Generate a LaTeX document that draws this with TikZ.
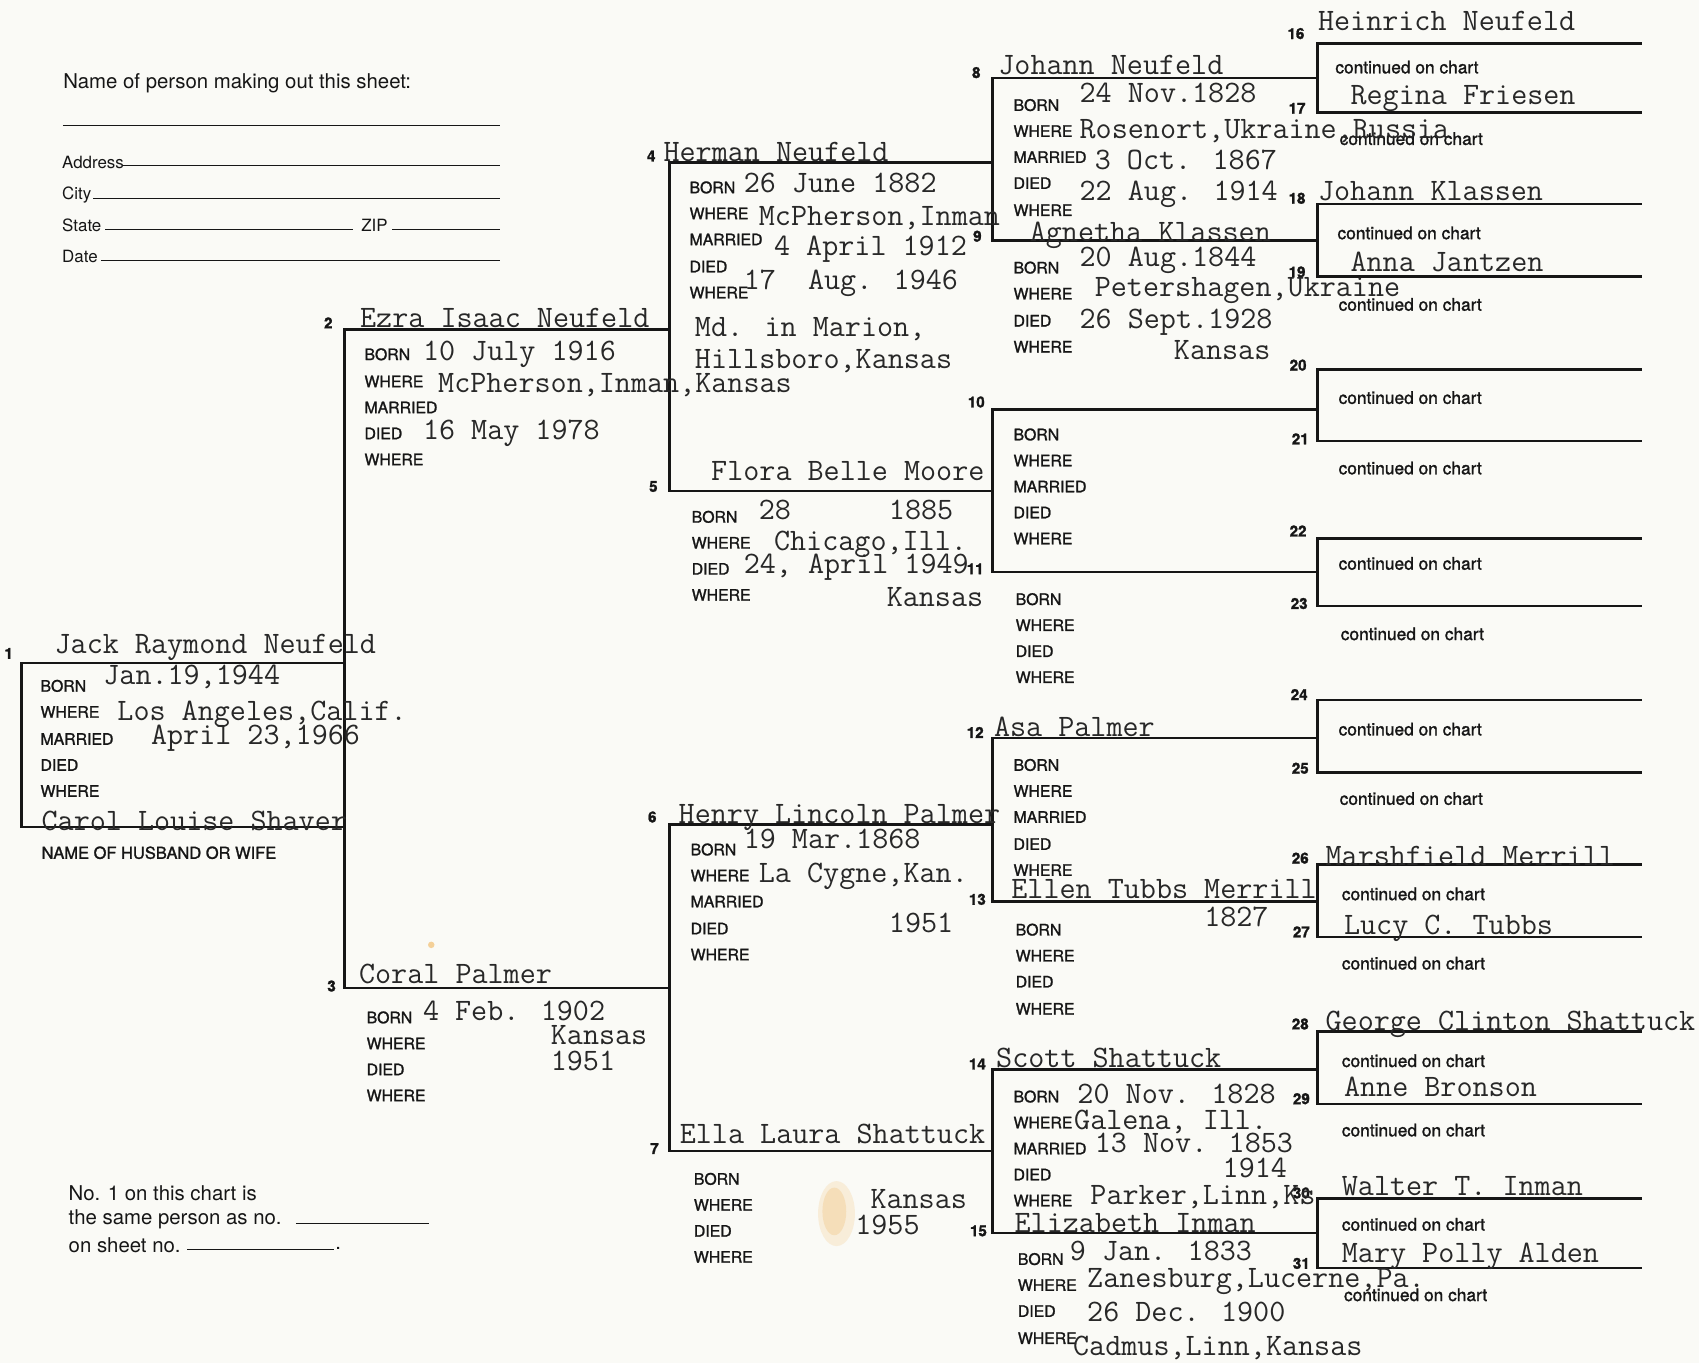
\documentclass[tikz,border=0pt]{standalone}
\usepackage{fontspec}
\newfontfamily\hv[FakeBold=1.4]{TeX Gyre Heros}
\newfontfamily\hvn{TeX Gyre Heros}
\definecolor{paper}{RGB}{250,250,246}
\definecolor{ink}{RGB}{22,22,22}
\definecolor{typeink}{RGB}{40,40,40}
\definecolor{stain}{RGB}{240,180,90}
\tikzset{
  tw/.style={font={\ttfamily\addfontfeatures{FakeBold=0.6}\fontsize{14.4}{14}\selectfont}, text=typeink, anchor=base west, inner sep=0pt},
  lab/.style={font={\hv\fontsize{7.3}{8}\selectfont}, text=ink, anchor=west, inner sep=0pt},
  cont/.style={font={\hv\fontsize{8}{9}\selectfont}, text=ink, anchor=west, inner sep=0pt},
  num/.style={font={\hv\bfseries\fontsize{7}{8}\selectfont}, text=ink, inner sep=0pt},
  form/.style={font={\hvn\fontsize{9.4}{11}\selectfont}, text=ink, anchor=west, inner sep=0pt},
  formsm/.style={font={\hvn\fontsize{7.8}{9}\selectfont}, text=ink, anchor=west, inner sep=0pt},
  chartline/.style={draw=ink, line width=1.1pt, line join=miter},
  formline/.style={draw=ink, line width=0.45pt},
}
\newcommand\boxlabels[3]{\foreach \t/\y [count=\i] in {#3} {\node[lab] (#1-\i) at (#2,\y) {\t};}}
\begin{document}
\begin{tikzpicture}[x=0.5pt,y=-0.5pt]
\useasboundingbox (0,0) rectangle (1568,1258);
\fill[paper] (0,0) rectangle (1568,1258);

% ---------- stains ----------
\fill[stain, opacity=0.18] (772,1120) ellipse [x radius=17, y radius=30];
\fill[stain, opacity=0.25] (770,1118) ellipse [x radius=11, y radius=22];
\fill[stain, opacity=0.6] (398,872) circle [radius=3];

% ---------- form header ----------
\node[form] (hname) at (58,77) {Name of person making out this sheet:};
\coordinate (h0a) at (58,116); \coordinate (h0b) at (461,116);
\draw[formline] (h0a) -- (h0b);
\node[formsm] (haddr) at (57,150) {Address};
\coordinate (h1a) at (113,153); \coordinate (h1b) at (461,153);
\draw[formline] (h1a) -- (h1b);
\node[formsm] (hcity) at (57,180) {City};
\coordinate (h2a) at (86,183); \coordinate (h2b) at (461,183);
\draw[formline] (h2a) -- (h2b);
\node[formsm] (hstate) at (57,208) {State};
\coordinate (h3a) at (97,212); \coordinate (h3b) at (326,212);
\draw[formline] (h3a) -- (h3b);
\node[formsm] (hzip) at (333,208) {ZIP};
\coordinate (h4a) at (362,212); \coordinate (h4b) at (461,212);
\draw[formline] (h4a) -- (h4b);
\node[formsm] (hdate) at (57,237) {Date};
\coordinate (h5a) at (93,240); \coordinate (h5b) at (461,240);
\draw[formline] (h5a) -- (h5b);

% ---------- bottom-left note ----------
\node[form] (n1) at (63,1101) {No. 1 on this chart is};
\node[form] (n2) at (63,1125) {the same person as no.};
\coordinate (n2a) at (273,1129); \coordinate (n2b) at (396,1129);
\draw[formline] (n2a) -- (n2b);
\node[form] (n3) at (63,1149) {on sheet no.};
\coordinate (n3a) at (173,1153); \coordinate (n3b) at (308,1153);
\draw[formline] (n3a) -- (n3b);
\node[form, anchor=base west] (n3dot) at (309,1153) {.};

% ---------- chart coordinates ----------
\coordinate (p1l) at (20,612);  \coordinate (p1r) at (318,612);
\coordinate (p1bl) at (20,763); \coordinate (p1br) at (318,763);
\coordinate (p2l) at (318,304); \coordinate (p2r) at (618,304);
\coordinate (p3l) at (318,912); \coordinate (p3r) at (618,912);
\coordinate (p4l) at (618,150);  \coordinate (p4r) at (916,150);
\coordinate (p5l) at (618,453);  \coordinate (p5r) at (916,453);
\coordinate (p6l) at (618,761);  \coordinate (p6r) at (916,761);
\coordinate (p7l) at (618,1062); \coordinate (p7r) at (916,1062);
\foreach \n/\y in {8/72,9/222,10/378,11/528,12/681,13/832,14/987,15/1138}
  {\coordinate (p\n l) at (916,\y); \coordinate (p\n r) at (1216,\y);}
\foreach \n/\y in {16/40,17/104,18/188,19/255,20/341,21/407,22/497,23/559,24/646,25/713,26/798,27/865,28/952,29/1019,30/1106,31/1170}
  {\coordinate (p\n l) at (1216,\y); \coordinate (p\n r) at (1515,\y);}

% ---------- chart lines ----------
\draw[chartline] (p1r) -- (p1l) -- (p1bl) -- (p1br);
\draw[chartline] (p2r) -- (p2l) -- (p3l) -- (p3r);
\draw[chartline] (p4r) -- (p4l) -- (p5l) -- (p5r);
\draw[chartline] (p6r) -- (p6l) -- (p7l) -- (p7r);
\foreach \a/\b in {8/9,10/11,12/13,14/15,16/17,18/19,20/21,22/23,24/25,26/27,28/29,30/31}
  {\draw[chartline] (p\a r) -- (p\a l) -- (p\b l) -- (p\b r);}

% ---------- numbers ----------
\foreach \n/\x/\y in {1/8/603,2/303/298,3/306/910,4/601/144,5/603/449,6/602/754,7/604/1060,
  8/901/67,9/902/218,10/901/371,11/900/525,12/900/676,13/902/830,14/902/982,15/903/1136,
  16/1196/31,17/1197/100,18/1197/183,19/1197/251,20/1198/337,21/1200/405,22/1198/490,23/1199/557,
  24/1199/641,25/1200/709,26/1200/792,27/1201/860,28/1200/945,29/1201/1014,30/1201/1101,31/1201/1166}
  {\node[num] (num\n) at (\x,\y) {\n};}

% ---------- printed labels ----------
\boxlabels{b1}{37}{BORN/633,WHERE/657,MARRIED/682,DIED/706,WHERE/730}
\node[lab, font={\hv\fontsize{7.6}{9}\selectfont}] (b1sp) at (38,787) {NAME OF HUSBAND OR WIFE};
\boxlabels{b2}{336}{BORN/327,WHERE/352,MARRIED/376,DIED/400,WHERE/424}
\boxlabels{b3}{338}{BORN/939,WHERE/963,DIED/987,WHERE/1011}
\boxlabels{b4}{636}{BORN/173,WHERE/197,MARRIED/221,DIED/246,WHERE/270}
\boxlabels{b5}{638}{BORN/477,WHERE/501,DIED/525,WHERE/549}
\boxlabels{b6}{637}{BORN/784,WHERE/808,MARRIED/832,DIED/857,WHERE/881}
\boxlabels{b7}{640}{BORN/1088,WHERE/1112,DIED/1136,WHERE/1160}
\boxlabels{b8}{935}{BORN/97,WHERE/121,MARRIED/145,DIED/169,WHERE/194}
\boxlabels{b9}{935}{BORN/247,WHERE/271,DIED/296,WHERE/320}
\boxlabels{b10}{935}{BORN/401,WHERE/425,MARRIED/449,DIED/473,WHERE/497}
\boxlabels{b11}{937}{BORN/553,WHERE/577,DIED/601,WHERE/625}
\boxlabels{b12}{935}{BORN/706,WHERE/730,MARRIED/754,DIED/779,WHERE/803}
\boxlabels{b13}{937}{BORN/858,WHERE/882,DIED/906,WHERE/931}
\boxlabels{b14}{935}{BORN/1012,WHERE/1036,MARRIED/1060,DIED/1084,WHERE/1108}
\boxlabels{b15}{939}{BORN/1162,WHERE/1186,DIED/1210,WHERE/1235}

% ---------- continued on chart ----------
\foreach \x/\y [count=\i] in {1232/62,1236/128,1234/215,1235/281,1235/367,1235/432,1235/520,1237/585,
  1235/673,1236/737,1238/825,1238/889,1238/979,1238/1043,1238/1130,1240/1195}
  {\node[cont] (cont\i) at (\x,\y) {continued on chart};}

% ---------- typed entries ----------
\node[tw] (t1n) at (50,603) {Jack Raymond Neufeld};
\node[tw] (t1b) at (95,632) {Jan.19,1944};
\node[tw] (t1w) at (108,665) {Los Angeles,Calif.};
\node[tw] (t1m) at (139,687) {April 23,1966};
\node[tw] (t1s) at (38,766) {Carol Louise Shaver};
\node[tw] (t2n) at (332,302) {Ezra Isaac Neufeld};
\node[tw] (t2b) at (390,333) {10 July 1916};
\node[tw] (t2w) at (404,362) {McPherson,Inman,Kansas};
\node[tw] (t2d) at (390,406) {16 May 1978};
\node[tw] (t3n) at (331,908) {Coral Palmer};
\node[tw] (t3b) at (390,942) {4 Feb. 1902};
\node[tw] (t3w) at (508,964) {Kansas};
\node[tw] (t3d) at (508,988) {1951};
\node[tw] (t4n) at (612,149) {Herman Neufeld};
\node[tw] (t4b) at (686,178) {26 June 1882};
\node[tw] (t4w) at (700,208) {McPherson,Inman};
\node[tw] (t4m) at (714,236) {4 April 1912};
\node[tw] (t4d) at (686,267) {17\ \ Aug. 1946};
\node[tw] (t4x) at (641,311) {Md. in Marion,};
\node[tw] (t4y) at (641,340) {Hillsboro,Kansas};
\node[tw] (t5n) at (656,443) {Flora Belle Moore};
\node[tw] (t5b) at (700,479) {28};
\node[tw] (t5c) at (820,479) {1885};
\node[tw] (t5w) at (714,508) {Chicago,Ill.};
\node[tw] (t5d) at (686,529) {24, April 1949};
\node[tw] (t5x) at (818,560) {Kansas};
\node[tw] (t6n) at (626,760) {Henry Lincoln Palmer};
\node[tw] (t6b) at (686,783) {19 Mar.1868};
\node[tw] (t6w) at (700,814) {La Cygne,Kan.};
\node[tw] (t6d) at (820,861) {1951};
\node[tw] (t7n) at (627,1055) {Ella Laura Shattuck};
\node[tw] (t7w) at (803,1115) {Kansas};
\node[tw] (t7d) at (789,1139) {1955};
\node[tw] (t8n) at (921,69) {Johann Neufeld};
\node[tw] (t8b) at (996,95) {24 Nov.1828};
\node[tw] (t8w) at (996,128) {Rosenort,Ukraine,Russia};
\node[tw] (t8m) at (1010,156) {3 Oct. 1867};
\node[tw] (t8d) at (996,185) {22 Aug. 1914};
\node[tw] (t9n) at (950,223) {Agnetha Klassen};
\node[tw] (t9b) at (996,246) {20 Aug.1844};
\node[tw] (t9w) at (1010,274) {Petershagen,Ukraine};
\node[tw] (t9d) at (996,303) {26 Sept.1928};
\node[tw] (t9x) at (1083,332) {Kansas};
\node[tw] (t12n) at (917,680) {Asa Palmer};
\node[tw] (t13n) at (933,829) {Ellen Tubbs Merrill};
\node[tw] (t13b) at (1111,855) {1827};
\node[tw] (t14n) at (919,985) {Scott Shattuck};
\node[tw] (t14b) at (994,1018) {20 Nov. 1828};
\node[tw] (t14w) at (991,1042) {Galena, Ill.};
\node[tw] (t14m) at (1010,1064) {13 Nov. 1853};
\node[tw] (t14d) at (1128,1087) {1914};
\node[tw] (t14x) at (1006,1112) {Parker,Linn,Ks};
\node[tw] (t15n) at (936,1137) {Elizabeth Inman};
\node[tw] (t15b) at (987,1163) {9 Jan. 1833};
\node[tw] (t15w) at (1003,1188) {Zanesburg,Lucerne,Pa.};
\node[tw] (t15d) at (1003,1220) {26 Dec. 1900};
\node[tw] (t15x) at (990,1251) {Cadmus,Linn,Kansas};
\node[tw] (t16n) at (1216,28) {Heinrich Neufeld};
\node[tw] (t17n) at (1246,96) {Regina Friesen};
\node[tw] (t18n) at (1216,185) {Johann Klassen};
\node[tw] (t19n) at (1246,251) {Anna Jantzen};
\node[tw] (t26n) at (1223,799) {Marshfield Merrill};
\node[tw] (t27n) at (1240,862) {Lucy C. Tubbs};
\node[tw] (t28n) at (1223,951) {George Clinton Shattuck};
\node[tw] (t29n) at (1240,1012) {Anne Bronson};
\node[tw] (t30n) at (1238,1103) {Walter T. Inman};
\node[tw] (t31n) at (1238,1165) {Mary Polly Alden};
\end{tikzpicture}
\end{document}
